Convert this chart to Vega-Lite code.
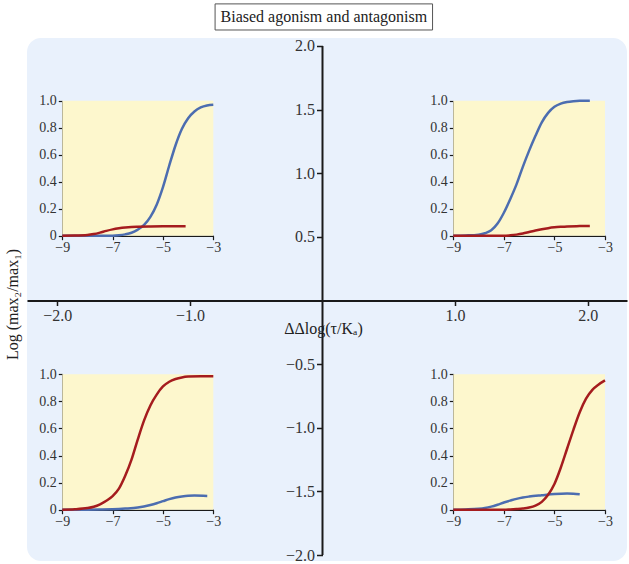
{
  "$schema": "https://vega.github.io/schema/vega-lite/v6.json",
  "width": 600,
  "height": 523,
  "autosize": {"type": "none"},
  "padding": {"left": 27, "top": 38, "right": 2, "bottom": 3},
  "background": "white",
  "config": {
    "view": {"stroke": null, "fill": "#e9f1fc", "cornerRadius": 14},
    "font": "Liberation Serif",
    "axis": {
      "labelFont": "Liberation Serif",
      "titleFont": "Liberation Serif",
      "labelColor": "#333333",
      "titleColor": "#222222",
      "titleFontWeight": "normal",
      "domainColor": "#1a1a1a",
      "tickColor": "#1a1a1a",
      "grid": false,
      "zindex": 1,
      "labelFlush": false,
      "labelOverlap": false
    }
  },
  "datasets": {
    "curves": [
      {"panel": "top-left", "series": "pathway 2", "x": -9, "y": 0},
      {"panel": "top-left", "series": "pathway 2", "x": -8, "y": 0},
      {"panel": "top-left", "series": "pathway 2", "x": -7, "y": 0},
      {"panel": "top-left", "series": "pathway 2", "x": -6.75, "y": 0.003},
      {"panel": "top-left", "series": "pathway 2", "x": -6.5, "y": 0.01},
      {"panel": "top-left", "series": "pathway 2", "x": -6.25, "y": 0.022},
      {"panel": "top-left", "series": "pathway 2", "x": -6, "y": 0.045},
      {"panel": "top-left", "series": "pathway 2", "x": -5.75, "y": 0.08},
      {"panel": "top-left", "series": "pathway 2", "x": -5.5, "y": 0.14},
      {"panel": "top-left", "series": "pathway 2", "x": -5.25, "y": 0.23},
      {"panel": "top-left", "series": "pathway 2", "x": -5, "y": 0.36},
      {"panel": "top-left", "series": "pathway 2", "x": -4.75, "y": 0.52},
      {"panel": "top-left", "series": "pathway 2", "x": -4.5, "y": 0.67},
      {"panel": "top-left", "series": "pathway 2", "x": -4.25, "y": 0.79},
      {"panel": "top-left", "series": "pathway 2", "x": -4, "y": 0.87},
      {"panel": "top-left", "series": "pathway 2", "x": -3.75, "y": 0.92},
      {"panel": "top-left", "series": "pathway 2", "x": -3.5, "y": 0.95},
      {"panel": "top-left", "series": "pathway 2", "x": -3.25, "y": 0.965},
      {"panel": "top-left", "series": "pathway 2", "x": -3, "y": 0.97},
      {"panel": "top-left", "series": "pathway 1", "x": -9, "y": 0},
      {"panel": "top-left", "series": "pathway 1", "x": -8.5, "y": 0.001},
      {"panel": "top-left", "series": "pathway 1", "x": -8, "y": 0.005},
      {"panel": "top-left", "series": "pathway 1", "x": -7.75, "y": 0.012},
      {"panel": "top-left", "series": "pathway 1", "x": -7.5, "y": 0.023},
      {"panel": "top-left", "series": "pathway 1", "x": -7.25, "y": 0.036},
      {"panel": "top-left", "series": "pathway 1", "x": -7, "y": 0.047},
      {"panel": "top-left", "series": "pathway 1", "x": -6.75, "y": 0.055},
      {"panel": "top-left", "series": "pathway 1", "x": -6.5, "y": 0.061},
      {"panel": "top-left", "series": "pathway 1", "x": -6.25, "y": 0.065},
      {"panel": "top-left", "series": "pathway 1", "x": -6, "y": 0.067},
      {"panel": "top-left", "series": "pathway 1", "x": -5.5, "y": 0.069},
      {"panel": "top-left", "series": "pathway 1", "x": -5, "y": 0.07},
      {"panel": "top-left", "series": "pathway 1", "x": -4.5, "y": 0.07},
      {"panel": "top-left", "series": "pathway 1", "x": -4.1, "y": 0.07},

      {"panel": "top-right", "series": "pathway 2", "x": -9, "y": 0},
      {"panel": "top-right", "series": "pathway 2", "x": -8.5, "y": 0.002},
      {"panel": "top-right", "series": "pathway 2", "x": -8, "y": 0.008},
      {"panel": "top-right", "series": "pathway 2", "x": -7.75, "y": 0.018},
      {"panel": "top-right", "series": "pathway 2", "x": -7.5, "y": 0.04},
      {"panel": "top-right", "series": "pathway 2", "x": -7.25, "y": 0.09},
      {"panel": "top-right", "series": "pathway 2", "x": -7, "y": 0.17},
      {"panel": "top-right", "series": "pathway 2", "x": -6.75, "y": 0.27},
      {"panel": "top-right", "series": "pathway 2", "x": -6.5, "y": 0.38},
      {"panel": "top-right", "series": "pathway 2", "x": -6.25, "y": 0.51},
      {"panel": "top-right", "series": "pathway 2", "x": -6, "y": 0.63},
      {"panel": "top-right", "series": "pathway 2", "x": -5.75, "y": 0.74},
      {"panel": "top-right", "series": "pathway 2", "x": -5.5, "y": 0.84},
      {"panel": "top-right", "series": "pathway 2", "x": -5.25, "y": 0.91},
      {"panel": "top-right", "series": "pathway 2", "x": -5, "y": 0.955},
      {"panel": "top-right", "series": "pathway 2", "x": -4.75, "y": 0.978},
      {"panel": "top-right", "series": "pathway 2", "x": -4.5, "y": 0.99},
      {"panel": "top-right", "series": "pathway 2", "x": -4.25, "y": 0.996},
      {"panel": "top-right", "series": "pathway 2", "x": -4, "y": 0.999},
      {"panel": "top-right", "series": "pathway 2", "x": -3.6, "y": 1.0},
      {"panel": "top-right", "series": "pathway 1", "x": -9, "y": 0},
      {"panel": "top-right", "series": "pathway 1", "x": -7, "y": 0},
      {"panel": "top-right", "series": "pathway 1", "x": -6.75, "y": 0.003},
      {"panel": "top-right", "series": "pathway 1", "x": -6.5, "y": 0.008},
      {"panel": "top-right", "series": "pathway 1", "x": -6.25, "y": 0.016},
      {"panel": "top-right", "series": "pathway 1", "x": -6, "y": 0.027},
      {"panel": "top-right", "series": "pathway 1", "x": -5.75, "y": 0.038},
      {"panel": "top-right", "series": "pathway 1", "x": -5.5, "y": 0.048},
      {"panel": "top-right", "series": "pathway 1", "x": -5.25, "y": 0.056},
      {"panel": "top-right", "series": "pathway 1", "x": -5, "y": 0.062},
      {"panel": "top-right", "series": "pathway 1", "x": -4.75, "y": 0.066},
      {"panel": "top-right", "series": "pathway 1", "x": -4.5, "y": 0.069},
      {"panel": "top-right", "series": "pathway 1", "x": -4, "y": 0.071},
      {"panel": "top-right", "series": "pathway 1", "x": -3.6, "y": 0.072},

      {"panel": "bottom-left", "series": "pathway 2", "x": -9, "y": 0},
      {"panel": "bottom-left", "series": "pathway 2", "x": -8, "y": 0},
      {"panel": "bottom-left", "series": "pathway 2", "x": -7.5, "y": 0.001},
      {"panel": "bottom-left", "series": "pathway 2", "x": -7, "y": 0.003},
      {"panel": "bottom-left", "series": "pathway 2", "x": -6.5, "y": 0.008},
      {"panel": "bottom-left", "series": "pathway 2", "x": -6, "y": 0.016},
      {"panel": "bottom-left", "series": "pathway 2", "x": -5.5, "y": 0.035},
      {"panel": "bottom-left", "series": "pathway 2", "x": -5.25, "y": 0.048},
      {"panel": "bottom-left", "series": "pathway 2", "x": -5, "y": 0.063},
      {"panel": "bottom-left", "series": "pathway 2", "x": -4.75, "y": 0.078},
      {"panel": "bottom-left", "series": "pathway 2", "x": -4.5, "y": 0.09},
      {"panel": "bottom-left", "series": "pathway 2", "x": -4.25, "y": 0.098},
      {"panel": "bottom-left", "series": "pathway 2", "x": -4, "y": 0.103},
      {"panel": "bottom-left", "series": "pathway 2", "x": -3.75, "y": 0.104},
      {"panel": "bottom-left", "series": "pathway 2", "x": -3.24, "y": 0.102},
      {"panel": "bottom-left", "series": "pathway 1", "x": -9, "y": 0},
      {"panel": "bottom-left", "series": "pathway 1", "x": -8.5, "y": 0.003},
      {"panel": "bottom-left", "series": "pathway 1", "x": -8, "y": 0.012},
      {"panel": "bottom-left", "series": "pathway 1", "x": -7.75, "y": 0.022},
      {"panel": "bottom-left", "series": "pathway 1", "x": -7.5, "y": 0.04},
      {"panel": "bottom-left", "series": "pathway 1", "x": -7.25, "y": 0.066},
      {"panel": "bottom-left", "series": "pathway 1", "x": -7, "y": 0.1},
      {"panel": "bottom-left", "series": "pathway 1", "x": -6.75, "y": 0.155},
      {"panel": "bottom-left", "series": "pathway 1", "x": -6.5, "y": 0.25},
      {"panel": "bottom-left", "series": "pathway 1", "x": -6.25, "y": 0.37},
      {"panel": "bottom-left", "series": "pathway 1", "x": -6, "y": 0.52},
      {"panel": "bottom-left", "series": "pathway 1", "x": -5.75, "y": 0.66},
      {"panel": "bottom-left", "series": "pathway 1", "x": -5.5, "y": 0.77},
      {"panel": "bottom-left", "series": "pathway 1", "x": -5.25, "y": 0.85},
      {"panel": "bottom-left", "series": "pathway 1", "x": -5, "y": 0.91},
      {"panel": "bottom-left", "series": "pathway 1", "x": -4.75, "y": 0.945},
      {"panel": "bottom-left", "series": "pathway 1", "x": -4.5, "y": 0.965},
      {"panel": "bottom-left", "series": "pathway 1", "x": -4.25, "y": 0.977},
      {"panel": "bottom-left", "series": "pathway 1", "x": -4, "y": 0.983},
      {"panel": "bottom-left", "series": "pathway 1", "x": -3.5, "y": 0.986},
      {"panel": "bottom-left", "series": "pathway 1", "x": -3, "y": 0.986},

      {"panel": "bottom-right", "series": "pathway 2", "x": -9, "y": 0},
      {"panel": "bottom-right", "series": "pathway 2", "x": -8.5, "y": 0.002},
      {"panel": "bottom-right", "series": "pathway 2", "x": -8, "y": 0.007},
      {"panel": "bottom-right", "series": "pathway 2", "x": -7.75, "y": 0.013},
      {"panel": "bottom-right", "series": "pathway 2", "x": -7.5, "y": 0.023},
      {"panel": "bottom-right", "series": "pathway 2", "x": -7.25, "y": 0.037},
      {"panel": "bottom-right", "series": "pathway 2", "x": -7, "y": 0.053},
      {"panel": "bottom-right", "series": "pathway 2", "x": -6.75, "y": 0.067},
      {"panel": "bottom-right", "series": "pathway 2", "x": -6.5, "y": 0.08},
      {"panel": "bottom-right", "series": "pathway 2", "x": -6.25, "y": 0.09},
      {"panel": "bottom-right", "series": "pathway 2", "x": -6, "y": 0.097},
      {"panel": "bottom-right", "series": "pathway 2", "x": -5.5, "y": 0.107},
      {"panel": "bottom-right", "series": "pathway 2", "x": -5, "y": 0.116},
      {"panel": "bottom-right", "series": "pathway 2", "x": -4.5, "y": 0.12},
      {"panel": "bottom-right", "series": "pathway 2", "x": -4.25, "y": 0.118},
      {"panel": "bottom-right", "series": "pathway 2", "x": -4, "y": 0.114},
      {"panel": "bottom-right", "series": "pathway 1", "x": -9, "y": 0},
      {"panel": "bottom-right", "series": "pathway 1", "x": -7, "y": 0},
      {"panel": "bottom-right", "series": "pathway 1", "x": -6.75, "y": 0.002},
      {"panel": "bottom-right", "series": "pathway 1", "x": -6.5, "y": 0.005},
      {"panel": "bottom-right", "series": "pathway 1", "x": -6.25, "y": 0.009},
      {"panel": "bottom-right", "series": "pathway 1", "x": -6, "y": 0.016},
      {"panel": "bottom-right", "series": "pathway 1", "x": -5.75, "y": 0.03},
      {"panel": "bottom-right", "series": "pathway 1", "x": -5.5, "y": 0.058},
      {"panel": "bottom-right", "series": "pathway 1", "x": -5.25, "y": 0.11},
      {"panel": "bottom-right", "series": "pathway 1", "x": -5, "y": 0.19},
      {"panel": "bottom-right", "series": "pathway 1", "x": -4.75, "y": 0.31},
      {"panel": "bottom-right", "series": "pathway 1", "x": -4.5, "y": 0.45},
      {"panel": "bottom-right", "series": "pathway 1", "x": -4.25, "y": 0.59},
      {"panel": "bottom-right", "series": "pathway 1", "x": -4, "y": 0.72},
      {"panel": "bottom-right", "series": "pathway 1", "x": -3.75, "y": 0.82},
      {"panel": "bottom-right", "series": "pathway 1", "x": -3.5, "y": 0.885},
      {"panel": "bottom-right", "series": "pathway 1", "x": -3.25, "y": 0.925},
      {"panel": "bottom-right", "series": "pathway 1", "x": -3, "y": 0.955}
    ]
  },
  "layer": [
    {
      "data": {"values": [{}]},
      "mark": {"type": "rule", "strokeWidth": 2, "color": "#1a1a1a"},
      "encoding": {
        "x": {
          "datum": 0, "type": "quantitative",
          "scale": {"domain": [-2.2285, 2.2964], "nice": false, "zero": false},
          "axis": {
            "orient": "bottom", "offset": -260.5, "values": [-2, -1, 1, 2], "format": ".1f",
            "domainWidth": 2, "tickSize": 5, "tickWidth": 1.5, "labelFontSize": 16, "labelPadding": 2,
            "title": "ΔΔlog(τ/Kₐ)", "titleFontSize": 16, "titleX": 296, "titleY": 33,
            "titleBaseline": "alphabetic", "titleAlign": "center", "titleAnchor": null
          }
        },
        "y": {
          "datum": -2, "type": "quantitative",
          "scale": {"domain": [-2.0463, 2.0621], "nice": false, "zero": false},
          "axis": {
            "orient": "left", "offset": -295.5, "values": [-2, -1.5, -1, -0.5, 0.5, 1, 1.5, 2], "format": ".1f",
            "domain": false, "tickSize": 6, "tickWidth": 1.5, "labelFontSize": 16, "labelPadding": 2,
            "title": "Log (max₂/max₁)", "titleFontSize": 16, "titleX": -310.5, "titleY": 266,
            "titleAngle": -90, "titleBaseline": "middle", "titleAlign": "center", "titleAnchor": null
          }
        },
        "y2": {"datum": 2}
      }
    },
    {
      "data": {"values": [{}]},
      "mark": {"type": "rect", "fill": "white", "stroke": "#555555", "strokeWidth": 1},
      "encoding": {
        "x": {"datum": -0.81, "type": "quantitative", "scale": {"domain": [-2.2285, 2.2964], "nice": false, "zero": false}, "axis": null},
        "x2": {"datum": 0.83},
        "y": {"datum": 2.125, "type": "quantitative", "scale": {"domain": [-2.0463, 2.0621], "nice": false, "zero": false}, "axis": null},
        "y2": {"datum": 2.33}
      }
    },
    {
      "data": {"values": [{}]},
      "mark": {"type": "text", "fontSize": 16, "font": "Liberation Serif", "color": "#222222", "baseline": "middle", "align": "center"},
      "encoding": {
        "x": {"datum": 0.01, "type": "quantitative", "scale": {"domain": [-2.2285, 2.2964], "nice": false, "zero": false}, "axis": null},
        "y": {"datum": 2.23, "type": "quantitative", "scale": {"domain": [-2.0463, 2.0621], "nice": false, "zero": false}, "axis": null},
        "text": {"value": "Biased agonism and antagonism"}
      }
    },

    {
      "data": {"values": [{}]},
      "mark": {"type": "rect", "fill": "#fdf7cd"},
      "encoding": {
        "x": {"datum": -9, "type": "quantitative", "scale": {"domain": [-9, -3], "range": [35.3, 186.3], "nice": false, "zero": false},
              "axis": {"orient": "bottom", "offset": -325.3, "values": [-9, -7, -5, -3], "format": "d", "tickSize": 4, "tickWidth": 1.2, "domainWidth": 1.5, "labelFontSize": 14, "labelPadding": 1, "title": null}},
        "x2": {"datum": -3},
        "y": {"datum": 0, "type": "quantitative", "scale": {"domain": [0, 1], "range": [197.7, 62.7], "nice": false, "zero": false},
              "axis": {"orient": "left", "offset": -35.3, "values": [0, 0.2, 0.4, 0.6, 0.8, 1], "labelExpr": "datum.value == 0 ? '0' : format(datum.value, '.1f')", "tickSize": 4, "tickWidth": 1.2, "domainWidth": 1.5, "labelFontSize": 14, "labelPadding": 2, "title": null}},
        "y2": {"datum": 1}
      }
    },
    {
      "data": {"name": "curves"},
      "transform": [{"filter": "datum.panel == 'top-left'"}],
      "mark": {"type": "line", "strokeWidth": 2.5, "interpolate": "monotone"},
      "encoding": {
        "x": {"field": "x", "type": "quantitative", "scale": {"domain": [-9, -3], "range": [35.3, 186.3], "nice": false, "zero": false}, "axis": null},
        "y": {"field": "y", "type": "quantitative", "scale": {"domain": [0, 1], "range": [197.7, 62.7], "nice": false, "zero": false}, "axis": null},
        "color": {"field": "series", "type": "nominal", "scale": {"domain": ["pathway 2", "pathway 1"], "range": ["#4c6db0", "#a51c1e"]}, "legend": null}
      }
    },

    {
      "data": {"values": [{}]},
      "mark": {"type": "rect", "fill": "#fdf7cd"},
      "encoding": {
        "x": {"datum": -9, "type": "quantitative", "scale": {"domain": [-9, -3], "range": [426.3, 578], "nice": false, "zero": false},
              "axis": {"orient": "bottom", "offset": -325.3, "values": [-9, -7, -5, -3], "format": "d", "tickSize": 4, "tickWidth": 1.2, "domainWidth": 1.5, "labelFontSize": 14, "labelPadding": 1, "title": null}},
        "x2": {"datum": -3},
        "y": {"datum": 0, "type": "quantitative", "scale": {"domain": [0, 1], "range": [197.7, 62.7], "nice": false, "zero": false},
              "axis": {"orient": "left", "offset": -426.3, "values": [0, 0.2, 0.4, 0.6, 0.8, 1], "labelExpr": "datum.value == 0 ? '0' : format(datum.value, '.1f')", "tickSize": 4, "tickWidth": 1.2, "domainWidth": 1.5, "labelFontSize": 14, "labelPadding": 2, "title": null}},
        "y2": {"datum": 1}
      }
    },
    {
      "data": {"name": "curves"},
      "transform": [{"filter": "datum.panel == 'top-right'"}],
      "mark": {"type": "line", "strokeWidth": 2.5, "interpolate": "monotone"},
      "encoding": {
        "x": {"field": "x", "type": "quantitative", "scale": {"domain": [-9, -3], "range": [426.3, 578], "nice": false, "zero": false}, "axis": null},
        "y": {"field": "y", "type": "quantitative", "scale": {"domain": [0, 1], "range": [197.7, 62.7], "nice": false, "zero": false}, "axis": null},
        "color": {"field": "series", "type": "nominal", "scale": {"domain": ["pathway 2", "pathway 1"], "range": ["#4c6db0", "#a51c1e"]}, "legend": null}
      }
    },

    {
      "data": {"values": [{}]},
      "mark": {"type": "rect", "fill": "#fdf7cd"},
      "encoding": {
        "x": {"datum": -9, "type": "quantitative", "scale": {"domain": [-9, -3], "range": [35.3, 186.3], "nice": false, "zero": false},
              "axis": {"orient": "bottom", "offset": -51.3, "values": [-9, -7, -5, -3], "format": "d", "tickSize": 4, "tickWidth": 1.2, "domainWidth": 1.5, "labelFontSize": 14, "labelPadding": 1, "title": null}},
        "x2": {"datum": -3},
        "y": {"datum": 0, "type": "quantitative", "scale": {"domain": [0, 1], "range": [471.7, 336.3], "nice": false, "zero": false},
              "axis": {"orient": "left", "offset": -35.3, "values": [0, 0.2, 0.4, 0.6, 0.8, 1], "labelExpr": "datum.value == 0 ? '0' : format(datum.value, '.1f')", "tickSize": 4, "tickWidth": 1.2, "domainWidth": 1.5, "labelFontSize": 14, "labelPadding": 2, "title": null}},
        "y2": {"datum": 1}
      }
    },
    {
      "data": {"name": "curves"},
      "transform": [{"filter": "datum.panel == 'bottom-left'"}],
      "mark": {"type": "line", "strokeWidth": 2.5, "interpolate": "monotone"},
      "encoding": {
        "x": {"field": "x", "type": "quantitative", "scale": {"domain": [-9, -3], "range": [35.3, 186.3], "nice": false, "zero": false}, "axis": null},
        "y": {"field": "y", "type": "quantitative", "scale": {"domain": [0, 1], "range": [471.7, 336.3], "nice": false, "zero": false}, "axis": null},
        "color": {"field": "series", "type": "nominal", "scale": {"domain": ["pathway 2", "pathway 1"], "range": ["#4c6db0", "#a51c1e"]}, "legend": null}
      }
    },

    {
      "data": {"values": [{}]},
      "mark": {"type": "rect", "fill": "#fdf7cd"},
      "encoding": {
        "x": {"datum": -9, "type": "quantitative", "scale": {"domain": [-9, -3], "range": [426.3, 578], "nice": false, "zero": false},
              "axis": {"orient": "bottom", "offset": -51.3, "values": [-9, -7, -5, -3], "format": "d", "tickSize": 4, "tickWidth": 1.2, "domainWidth": 1.5, "labelFontSize": 14, "labelPadding": 1, "title": null}},
        "x2": {"datum": -3},
        "y": {"datum": 0, "type": "quantitative", "scale": {"domain": [0, 1], "range": [471.7, 336.3], "nice": false, "zero": false},
              "axis": {"orient": "left", "offset": -426.3, "values": [0, 0.2, 0.4, 0.6, 0.8, 1], "labelExpr": "datum.value == 0 ? '0' : format(datum.value, '.1f')", "tickSize": 4, "tickWidth": 1.2, "domainWidth": 1.5, "labelFontSize": 14, "labelPadding": 2, "title": null}},
        "y2": {"datum": 1}
      }
    },
    {
      "data": {"name": "curves"},
      "transform": [{"filter": "datum.panel == 'bottom-right'"}],
      "mark": {"type": "line", "strokeWidth": 2.5, "interpolate": "monotone"},
      "encoding": {
        "x": {"field": "x", "type": "quantitative", "scale": {"domain": [-9, -3], "range": [426.3, 578], "nice": false, "zero": false}, "axis": null},
        "y": {"field": "y", "type": "quantitative", "scale": {"domain": [0, 1], "range": [471.7, 336.3], "nice": false, "zero": false}, "axis": null},
        "color": {"field": "series", "type": "nominal", "scale": {"domain": ["pathway 2", "pathway 1"], "range": ["#4c6db0", "#a51c1e"]}, "legend": null}
      }
    }
  ],
  "resolve": {
    "scale": {"x": "independent", "y": "independent", "color": "shared"},
    "axis": {"x": "independent", "y": "independent"}
  }
}
